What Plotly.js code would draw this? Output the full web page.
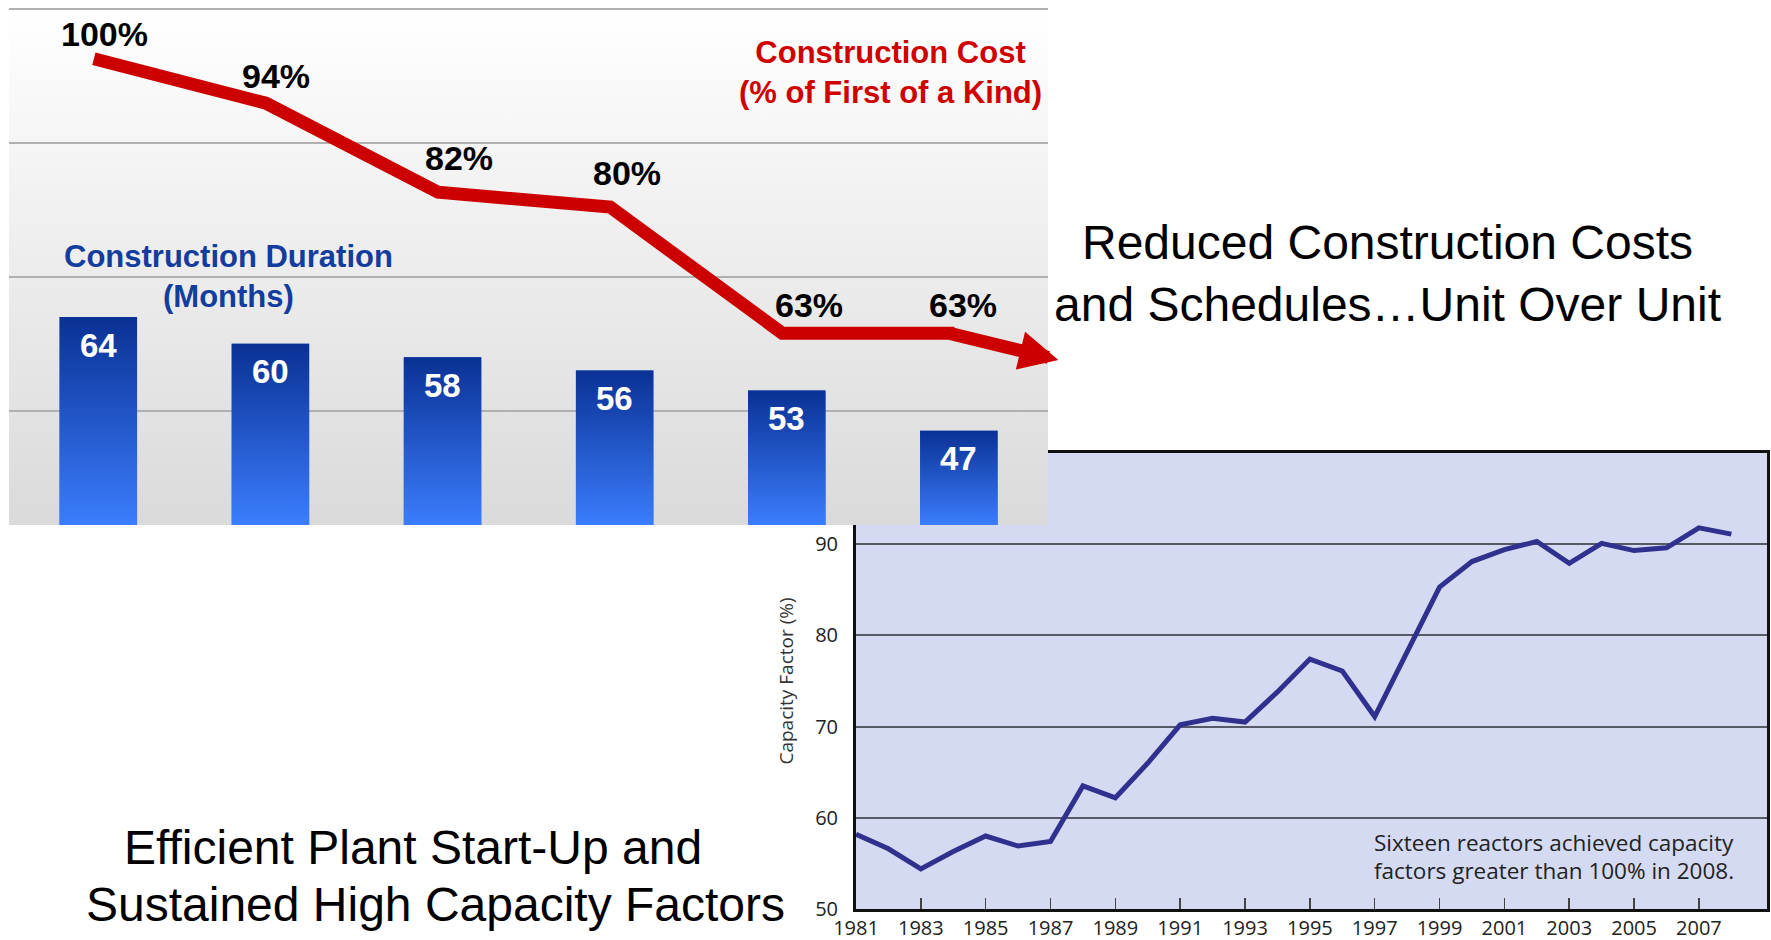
<!DOCTYPE html>
<html><head><meta charset="utf-8">
<script src="https://cdn.plot.ly/plotly-3.0.1.min.js"></script>
<style>html,body{margin:0;padding:0;background:#fff;overflow:hidden}#chart{width:1771px;height:940px}</style>
</head><body><div id="chart"></div>
<script>
// ---- Top chart: unit over unit ----
const unitIndex = [1, 2, 3, 4, 5, 6];
const durationMonths = [64, 60, 58, 56, 53, 47];
const costPctFOAK = [100, 94, 82, 80, 63, 63];

// ---- Bottom chart: capacity factor ----
const years = [1981, 1982, 1983, 1984, 1985, 1986, 1987, 1988, 1989, 1990, 1991, 1992, 1993, 1994,
               1995, 1996, 1997, 1998, 1999, 2000, 2001, 2002, 2003, 2004, 2005, 2006, 2007, 2008];
const capacityFactor = [58.2, 56.6, 54.4, 56.3, 58.0, 56.9, 57.4, 63.5, 62.2, 66.0, 70.2, 70.9, 70.5, 73.8,
                        77.4, 76.1, 71.1, 78.2, 85.3, 88.1, 89.4, 90.3, 87.9, 90.1, 89.3, 89.6, 91.8, 91.1];
const yearTickVals = [1981, 1983, 1985, 1987, 1989, 1991, 1993, 1995, 1997, 1999, 2001, 2003, 2005, 2007];
const yearTickText = ['1981', '1983', '1985', '1987', '1989', '1991', '1993', '1995', '1997', '1999', '2001', '2003', '2005', '2007'];
const cfTickVals = [50, 60, 70, 80, 90];

// ---- geometry / styling helpers (not data) ----
const W = 1771, H = 940;
const fx = p => p / W;
const fy = p => 1 - p / H;

const X2_RANGE = [0.481, 6.518];
const X3_RANGE = [0.507, 6.544];      // cost line sits a few px left of bar centres
const Y2_RANGE = [32.9, 110.2];
const Y3_RANGE = [37.15, 106.83];
const BAR_W = 0.45;
const costLabelDx = [11, 10, 21, 17, 27, 9];   // px offsets of % labels
const costLabelDy = [25, 27, 34, 34, 28, 28];

const ARIAL = 'Liberation Sans, Arial, sans-serif';
const FUT = 'Open Sans, Noto Sans, sans-serif';

const traces = [];

// bottom chart line
traces.push({
  type: 'scatter', mode: 'lines', x: years, y: capacityFactor,
  xaxis: 'x', yaxis: 'y',
  line: {color: '#30318f', width: 5},
  hoverinfo: 'skip'
});

// top chart bars (solid base)
traces.push({
  type: 'bar', x: unitIndex, y: durationMonths, width: BAR_W,
  xaxis: 'x2', yaxis: 'y2',
  marker: {color: '#2253cc', line: {width: 0}},
  hoverinfo: 'skip'
});
// gradient overlay for each bar
unitIndex.forEach((u, i) => {
  const d = durationMonths[i];
  traces.push({
    type: 'scatter', mode: 'lines', xaxis: 'x2', yaxis: 'y2',
    x: [u - BAR_W / 2, u + BAR_W / 2, u + BAR_W / 2, u - BAR_W / 2, u - BAR_W / 2],
    y: [Y2_RANGE[0], Y2_RANGE[0], d, d, Y2_RANGE[0]],
    fill: 'toself', line: {width: 0, color: 'rgba(0,0,0,0)'},
    fillcolor: '#2253cc',
    fillgradient: {type: 'vertical', colorscale: [[0, '#3b7dfd'], [1, '#0a3194']]},
    hoverinfo: 'skip', showlegend: false
  });
});

// cost line
traces.push({
  type: 'scatter', mode: 'lines', x: unitIndex, y: costPctFOAK,
  xaxis: 'x3', yaxis: 'y3',
  line: {color: '#cc0000', width: 13},
  hoverinfo: 'skip'
});

const annotations = [];
// bar value labels
unitIndex.forEach((u, i) => {
  annotations.push({
    xref: 'x2', yref: 'y2', x: u, y: durationMonths[i], yshift: -28,
    text: String(durationMonths[i]), showarrow: false,
    font: {family: ARIAL, size: 33, color: '#ffffff', weight: 'bold'}
  });
});
// cost labels
unitIndex.forEach((u, i) => {
  annotations.push({
    xref: 'x3', yref: 'y3', x: u, y: costPctFOAK[i], xshift: costLabelDx[i], yshift: costLabelDy[i],
    text: costPctFOAK[i] + '%', showarrow: false,
    font: {family: ARIAL, size: 34, color: '#000000', weight: 'bold'}
  });
});
// arrow continuing the cost line
annotations.push({
  xref: 'x3', yref: 'y3', axref: 'x3', ayref: 'y3',
  x: 6.604, y: 59.4, ax: unitIndex[5] - 0.03, ay: costPctFOAK[5],
  text: '', showarrow: true, arrowhead: 2, arrowsize: 0.6, arrowwidth: 13,
  arrowcolor: '#cc0000', standoff: 0, startstandoff: 0
});
// series titles
annotations.push({
  xref: 'paper', yref: 'paper', x: fx(890), y: fy(72), xanchor: 'center', yanchor: 'middle',
  text: 'Construction Cost<br>(% of First of a Kind)', showarrow: false,
  font: {family: ARIAL, size: 31, color: '#d00000', weight: 'bold'}
});
annotations.push({
  xref: 'paper', yref: 'paper', x: fx(228), y: fy(276), xanchor: 'center', yanchor: 'middle',
  text: 'Construction Duration<br>(Months)', showarrow: false,
  font: {family: ARIAL, size: 31, color: '#123c9e', weight: 'bold'}
});
// headline texts
annotations.push({
  xref: 'paper', yref: 'paper', x: fx(1387), y: fy(273), xanchor: 'center', yanchor: 'middle',
  text: 'Reduced Construction Costs<br>and Schedules…Unit Over Unit', showarrow: false,
  font: {family: ARIAL, size: 48, color: '#000000'}
});
annotations.push({
  xref: 'paper', yref: 'paper', x: fx(413), y: fy(847), xanchor: 'center', yanchor: 'middle',
  text: 'Efficient Plant Start-Up and', showarrow: false,
  font: {family: ARIAL, size: 48, color: '#000000'}
});
annotations.push({
  xref: 'paper', yref: 'paper', x: fx(435), y: fy(904), xanchor: 'center', yanchor: 'middle',
  text: 'Sustained High Capacity Factors', showarrow: false,
  font: {family: ARIAL, size: 48, color: '#000000'}
});
// note inside capacity chart (two lines)
annotations.push({
  xref: 'paper', yref: 'paper', x: fx(1372), y: fy(842), xanchor: 'left', yanchor: 'middle', align: 'left',
  text: 'Sixteen reactors achieved capacity', showarrow: false,
  font: {family: FUT, size: 22.5, color: '#222222'}
});
annotations.push({
  xref: 'paper', yref: 'paper', x: fx(1372), y: fy(870), xanchor: 'left', yanchor: 'middle', align: 'left',
  text: 'factors greater than 100% in 2008.', showarrow: false,
  font: {family: FUT, size: 22.5, color: '#222222'}
});

const bgSvg = '<svg xmlns="http://www.w3.org/2000/svg" width="100" height="100" preserveAspectRatio="none">' +
  '<defs><linearGradient id="g" x1="0" y1="0" x2="0" y2="1">' +
  '<stop offset="0" stop-color="#ffffff"/><stop offset="1" stop-color="#dadada"/></linearGradient></defs>' +
  '<rect width="100" height="100" fill="url(#g)"/></svg>';

const layout = {
  width: W, height: H,
  margin: {l: 0, r: 0, t: 0, b: 0},
  paper_bgcolor: '#ffffff',
  plot_bgcolor: '#d4daf1',
  showlegend: false,
  barmode: 'overlay',
  xaxis: {
    domain: [fx(856), fx(1767)], anchor: 'y',
    range: [1981, 2009.1],
    tickmode: 'array', tickvals: yearTickVals, ticktext: yearTickText,
    ticks: 'inside', ticklen: 11, tickwidth: 1.5, tickcolor: '#444',
    showline: true, linecolor: '#111', linewidth: 3, mirror: true,
    showgrid: false, zeroline: false,
    tickfont: {family: FUT, size: 20, color: '#222'},
    ticklabelstandoff: -1
  },
  yaxis: {
    domain: [fy(909), fy(453)], anchor: 'x',
    range: [50, 100],
    tickmode: 'array', tickvals: cfTickVals,
    ticks: '', showline: true, linecolor: '#111', linewidth: 3, mirror: true,
    showgrid: true, gridcolor: '#555a66', gridwidth: 2, zeroline: false,
    tickfont: {family: FUT, size: 20, color: '#222'},
    ticklabelstandoff: 11,
    title: {text: 'Capacity Factor (%)', font: {family: FUT, size: 19, color: '#333'}, standoff: 17}
  },
  xaxis2: {
    domain: [fx(9), fx(1048)], anchor: 'y2',
    range: X2_RANGE, visible: false, fixedrange: true
  },
  xaxis3: {
    overlaying: 'x2', anchor: 'y3', range: X3_RANGE, visible: false
  },
  yaxis2: {
    domain: [fy(525), fy(8)], anchor: 'x2',
    range: Y2_RANGE,
    tickmode: 'array', tickvals: [50, 70, 90, 110],
    showticklabels: false, ticks: '', showline: false, zeroline: false,
    showgrid: true, gridcolor: '#b0b0b0', gridwidth: 2
  },
  yaxis3: {
    overlaying: 'y2', anchor: 'x3', range: Y3_RANGE,
    visible: false, showgrid: false, zeroline: false
  },
  images: [{
    source: 'data:image/svg+xml;charset=utf-8,' + encodeURIComponent(bgSvg),
    xref: 'x2', yref: 'y2', x: X2_RANGE[0], y: Y2_RANGE[1],
    sizex: X2_RANGE[1] - X2_RANGE[0], sizey: Y2_RANGE[1] - Y2_RANGE[0],
    sizing: 'stretch', xanchor: 'left', yanchor: 'top', layer: 'below'
  }],
  annotations: annotations
};

Plotly.newPlot('chart', traces, layout, {displayModeBar: false, staticPlot: true});
</script>
</body></html>
